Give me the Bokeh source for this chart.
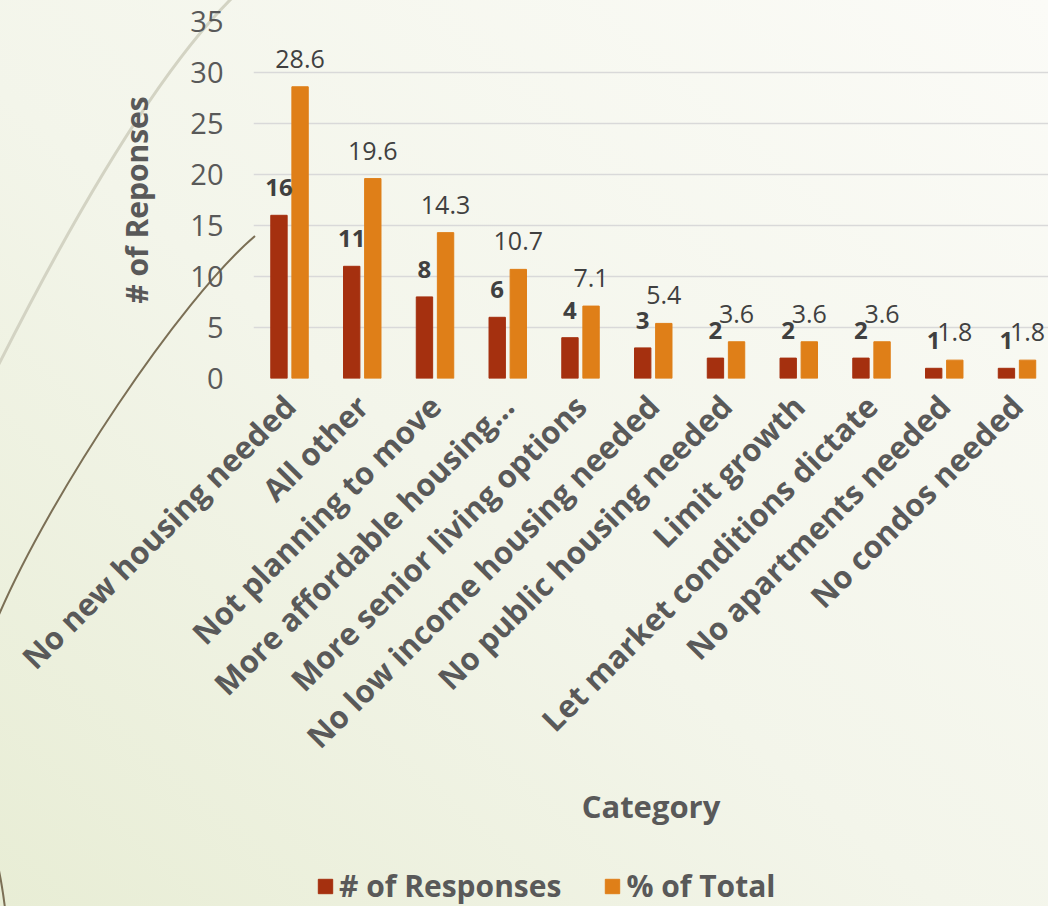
from math import pi
import urllib.parse

from bokeh.plotting import figure
from bokeh.layouts import column
from bokeh.models import (ColumnDataSource, Range1d, FixedTicker, LabelSet,
                          Legend, LegendItem, GlobalInlineStyleSheet)
from bokeh.core.properties import value
from bokeh.transform import dodge
from bokeh.embed import file_html
from bokeh.resources import INLINE

# ---------------- data ----------------
categories = [
    "No new housing needed",
    "All other",
    "Not planning to move",
    "More affordable housing\u2026",
    "More senior living options",
    "No low income housing needed",
    "No public housing needed",
    "Limit growth",
    "Let market conditions dictate",
    "No apartments needed",
    "No condos needed",
]
responses = [16, 11, 8, 6, 4, 3, 2, 2, 2, 1, 1]
pct_total = [28.6, 19.6, 14.3, 10.7, 7.1, 5.4, 3.6, 3.6, 3.6, 1.8, 1.8]
y_ticks = [0, 5, 10, 15, 20, 25, 30, 35]

series_names = ["# of Responses", "% of Total"]
x_title = "Category"
y_title = "# of Reponses"

# ---------------- style ----------------
RED = "#A5300F"
ORANGE = "#DF7F18"
GRAY = "#595959"
DARK = "#404040"
FONT = "Open Sans"

xs = list(range(len(categories)))
src = ColumnDataSource(dict(
    x=xs,
    resp=responses,
    pct=pct_total,
    resp_lbl=[str(v) for v in responses],
    pct_lbl=[f"{v:.1f}" for v in pct_total],
))

# background (decoration only): gradient + theme arcs
svg_bg = (
    "<svg xmlns='http://www.w3.org/2000/svg' width='1048' height='906'>"
    "<defs><linearGradient id='g' x1='0' y1='1' x2='1' y2='0'>"
    "<stop offset='0' stop-color='#e8edd5'/>"
    "<stop offset='0.45' stop-color='#f3f5ea'/>"
    "<stop offset='1' stop-color='#fbfbf7'/>"
    "</linearGradient></defs>"
    "<rect width='1048' height='906' fill='url(#g)'/>"
    "<path d='M232,-2 C150,80 60,243 -2,366' stroke='#d3d3c3' stroke-width='3' fill='none'/>"
    "<path d='M255,236 C180,300 50,495 -2,617' stroke='#7b6f55' stroke-width='2' fill='none'/>"
    "<path d='M-2,866 Q2,884 5,908' stroke='#7b6f55' stroke-width='2' fill='none'/>"
    "</svg>"
)
bg_url = "data:image/svg+xml," + urllib.parse.quote(svg_bg)
css = ("html { background: #f4f6ec url(\"%s\") no-repeat 0 0; "
       "background-size: 1048px 906px; overflow: hidden; } "
       "body { background: transparent; margin: 0; padding: 0; }" % bg_url)

MAIN_H = 856
FRAME_LEFT = 253
p = figure(
    width=1048, height=MAIN_H,
    x_range=Range1d(-0.495, 10.433),
    y_range=Range1d(0, 35),
    output_backend="svg",
    toolbar_location=None,
    min_border_left=FRAME_LEFT, min_border_right=0,
    min_border_top=21, min_border_bottom=MAIN_H - 378,
)
p.stylesheets = [GlobalInlineStyleSheet(css=css)]
p.background_fill_alpha = 0
p.border_fill_alpha = 0
p.outline_line_color = None

r1 = p.vbar(x=dodge("x", -0.145, range=p.x_range), top="resp", width=0.225,
            source=src, fill_color=RED, line_color=RED)
r2 = p.vbar(x=dodge("x", 0.145, range=p.x_range), top="pct", width=0.225,
            source=src, fill_color=ORANGE, line_color=ORANGE)

lab1 = LabelSet(x=dodge("x", -0.145, range=p.x_range), y="resp", text="resp_lbl",
                source=src, text_align="center", text_baseline="bottom",
                y_offset=19, text_font=value(FONT), text_font_style="bold",
                text_font_size="24px", text_color=DARK)
lab2 = LabelSet(x=dodge("x", 0.145, range=p.x_range), y="pct", text="pct_lbl",
                source=src, text_align="center", text_baseline="bottom",
                y_offset=19, text_font=value(FONT), text_font_size="25px",
                text_color=DARK)
p.add_layout(lab1)
p.add_layout(lab2)

# grid
p.xgrid.grid_line_color = None
p.ygrid.grid_line_color = "#d9d9d9"
p.ygrid.grid_line_width = 1.5

# y axis
p.yaxis.ticker = FixedTicker(ticks=y_ticks)
p.yaxis.axis_line_color = None
p.yaxis.major_tick_line_color = None
p.yaxis.minor_tick_line_color = None
p.yaxis.major_tick_out = 0
p.yaxis.major_label_standoff = 30
p.yaxis.major_label_text_font = FONT
p.yaxis.major_label_text_font_size = "29px"
p.yaxis.major_label_text_color = GRAY
p.yaxis.axis_label = y_title
p.yaxis.axis_label_text_font = FONT
p.yaxis.axis_label_text_font_style = "bold"
p.yaxis.axis_label_text_font_size = "30px"
p.yaxis.axis_label_text_color = GRAY
p.yaxis.axis_label_standoff = 30

# x axis
p.xaxis.ticker = FixedTicker(ticks=xs)
p.xaxis.major_label_overrides = {i: c for i, c in enumerate(categories)}
p.xaxis.major_label_orientation = pi / 4
p.xaxis.axis_line_color = None
p.xaxis.major_tick_line_color = None
p.xaxis.minor_tick_line_color = None
p.xaxis.major_tick_out = 0
p.xaxis.major_label_standoff = 22
p.xaxis.major_label_text_font = FONT
p.xaxis.major_label_text_font_style = "bold"
p.xaxis.major_label_text_font_size = "31px"
p.xaxis.major_label_text_color = GRAY
p.xaxis.axis_label = x_title
p.xaxis.axis_label_text_font = FONT
p.xaxis.axis_label_text_font_style = "bold"
p.xaxis.axis_label_text_font_size = "31px"
p.xaxis.axis_label_text_color = GRAY
p.xaxis.axis_label_standoff = 10

# ---------------- legend strip ----------------
LEG_H = 906 - MAIN_H
lf = figure(
    width=1048, height=LEG_H,
    x_range=Range1d(0, 1), y_range=Range1d(0, 1),
    x_axis_type=None, y_axis_type=None,
    output_backend="svg", toolbar_location=None,
    min_border=0,
)
lf.background_fill_alpha = 0
lf.border_fill_alpha = 0
lf.outline_line_color = None
lf.grid.visible = False
# legend proxies with no drawable data (NaN), used only for the legend swatches
lr1 = lf.vbar(x=[float("nan")], top=[float("nan")], width=0.01,
              fill_color=RED, line_color=RED)
lr2 = lf.vbar(x=[float("nan")], top=[float("nan")], width=0.01,
              fill_color=ORANGE, line_color=ORANGE)

legend = Legend(
    items=[LegendItem(label=series_names[0], renderers=[lr1]),
           LegendItem(label=series_names[1], renderers=[lr2])],
    orientation="horizontal",
    location=(316 - FRAME_LEFT, 0),
)
legend.background_fill_alpha = 0
legend.border_line_alpha = 0
legend.label_text_font = FONT
legend.label_text_font_style = "bold"
legend.label_text_font_size = "30px"
legend.label_text_color = GRAY
legend.glyph_width = 18
legend.glyph_height = 18
legend.label_standoff = 5
legend.spacing = 42
legend.padding = 0
legend.margin = 0
lf.add_layout(legend, "center")

layout = column(p, lf, spacing=0)
open("out.html", "w").write(file_html(layout, INLINE))
